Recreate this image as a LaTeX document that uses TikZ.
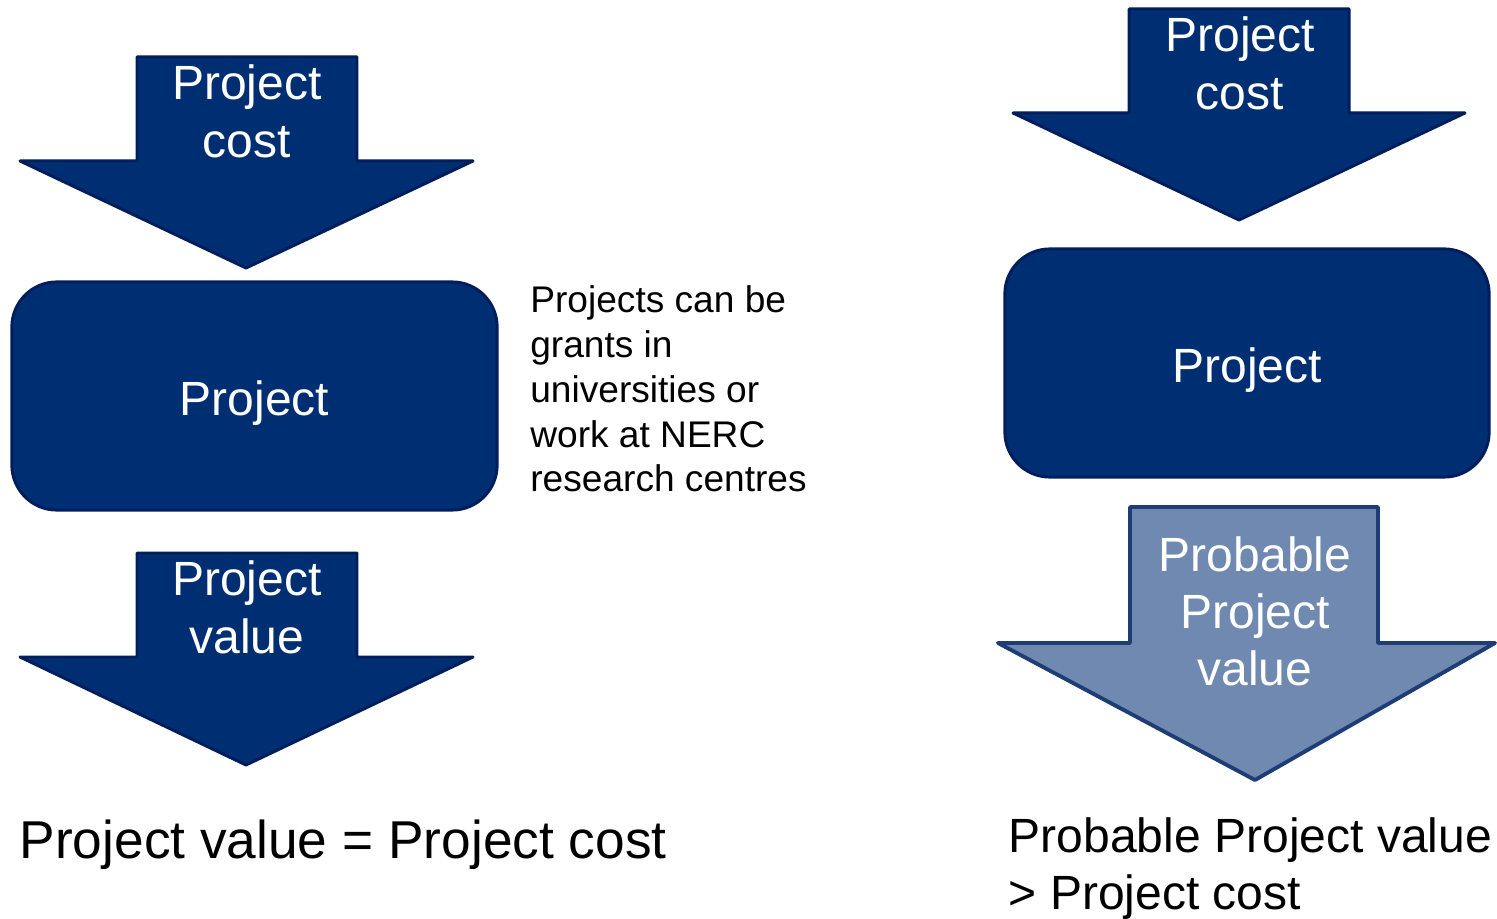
\documentclass[tikz,border=0pt]{standalone}
\usepackage{fontspec}
\setmainfont{Liberation Sans}
\usepackage{tikz}
\usetikzlibrary{positioning}

\definecolor{navy}{HTML}{002E73}
\definecolor{navyline}{HTML}{001E5B}
\definecolor{steel}{HTML}{6F89B0}
\definecolor{steelline}{HTML}{1F3D75}

\begin{document}
\begin{tikzpicture}[x=0.01cm, y=-0.01cm]
	% Define styles
	\tikzset{
		bigarrow/.style={draw=navyline, fill=navy, line width=0.85pt, line join=round},
		softarrow/.style={draw=steelline, fill=steel, line width=1.1pt, line join=round},
		arrowtext/.style={text=white, align=center, inner sep=0pt, font=\fontsize{13.66pt}{16.5pt}\selectfont},
		block/.style={rectangle, rounded corners=0.45cm, draw=navyline, fill=navy, line width=0.85pt, minimum width=4.85cm, minimum height=2.28cm, text=white, font=\fontsize{13.66pt}{16.5pt}\selectfont, text height=0.38cm, text depth=0pt},
		note/.style={align=left, inner sep=0pt, font=\fontsize{10.55pt}{12.73pt}\selectfont}
	}
	\useasboundingbox (0,0) rectangle (1497,919);
	
	% Left: cost in, value out
	\path[bigarrow] (137,57) -- (357,57) -- (357,161) -- (473,161) -- (246,268) -- (20,161) -- (137,161) -- cycle;
	\node[arrowtext] (cost1) at (247,111.5) {Project\\cost};
	
	\node[block] (proj1) at (254.5,396) {Project};
	\node[note, right=0.31cm of proj1, yshift=0.07cm] (note1) {Projects can be\\grants in\\universities or\\work at NERC\\research centres};
	
	\path[bigarrow] (137,553) -- (357,553) -- (357,657) -- (473,657) -- (246,765) -- (20,657) -- (137,657) -- cycle;
	\node[arrowtext] (val1) at (247,607.5) {Project\\value};
	
	\node[anchor=base west, inner sep=0pt, font=\fontsize{15.15pt}{17pt}\selectfont] (eq1) at (19,858) {Project value = Project cost};
	
	% Right: cost in, probable value out
	\path[bigarrow] (1129,9) -- (1349,9) -- (1349,113) -- (1465,113) -- (1239,220) -- (1013,113) -- (1129,113) -- cycle;
	\node[arrowtext] (cost2) at (1240,63.5) {Project\\cost};
	
	\node[block, minimum width=4.84cm] (proj2) at (1247,363) {Project};
	
	\path[softarrow] (1130,507) -- (1378,507) -- (1378,643) -- (1495,643) -- (1255,780) -- (998,643) -- (1130,643) -- cycle;
	\node[arrowtext, font=\fontsize{13.66pt}{16.22pt}\selectfont] (val2) at (1255,611.5) {Probable\\Project\\value};
	
	\node[anchor=west, align=left, inner sep=0pt, font=\fontsize{13.66pt}{16.22pt}\selectfont] (eq2) at (1008,869) {Probable Project value\\> Project cost};
\end{tikzpicture}
\end{document}
